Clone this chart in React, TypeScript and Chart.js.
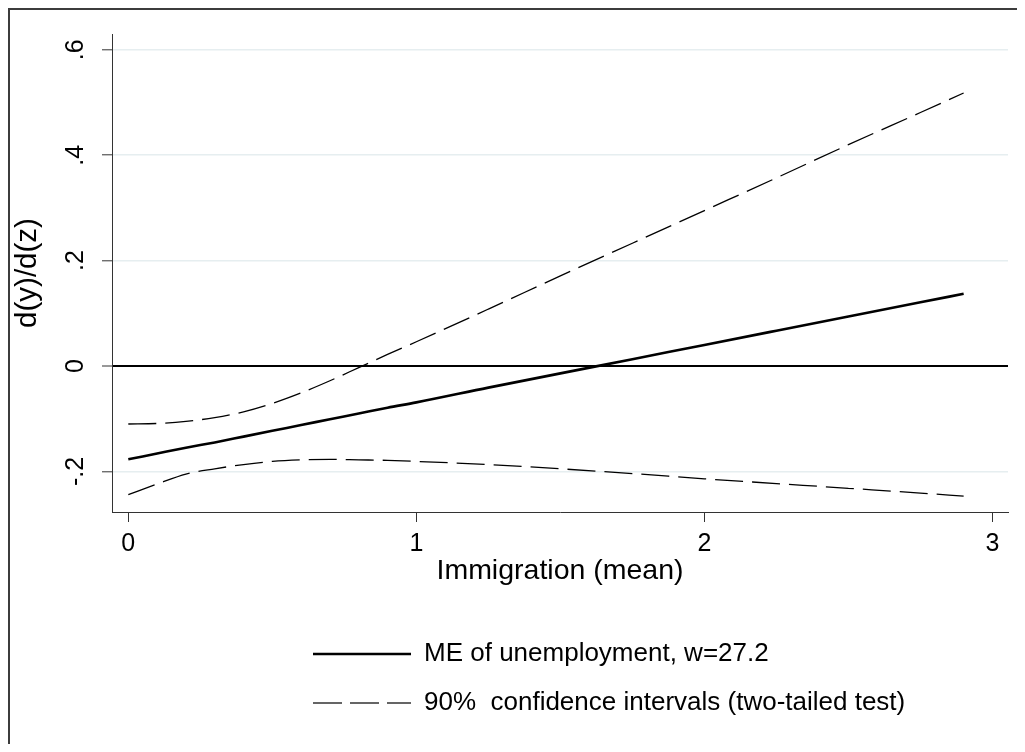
import React, { useEffect, useRef } from 'react';
import { Chart, registerables } from 'chart.js';

Chart.register(...registerables);

// ---- data ----
const xValues = [0, 0.1, 0.2, 0.3, 0.4, 0.5, 0.6, 0.7, 0.8, 0.9, 1.0, 1.25, 1.5, 1.75, 2.0, 2.25, 2.5, 2.75, 2.9];
const meValues = [-0.177, -0.166, -0.155, -0.145, -0.134, -0.123, -0.112, -0.101, -0.09, -0.079, -0.069, -0.041, -0.014, 0.013, 0.04, 0.067, 0.094, 0.121, 0.137];
const upperCI = [-0.11, -0.109, -0.105, -0.098, -0.087, -0.071, -0.051, -0.028, -0.003, 0.022, 0.046, 0.108, 0.171, 0.233, 0.295, 0.357, 0.42, 0.481, 0.518];
const lowerCI = [-0.244, -0.224, -0.205, -0.195, -0.187, -0.181, -0.178, -0.177, -0.178, -0.179, -0.181, -0.187, -0.195, -0.204, -0.214, -0.223, -0.232, -0.241, -0.247];
const xTickValues = [0, 1, 2, 3];
const yTickValues = [-0.2, 0, 0.2, 0.4, 0.6];
const xRange = [-0.0566, 3.054];
const yRange = [-0.277, 0.63];
const seriesLabels = ['ME of unemployment, w=27.2', '90%  confidence intervals (two-tailed test)'];
const xTitle = 'Immigration (mean)';
const yTitle = 'd(y)/d(z)';

const FONT = "'Liberation Sans', Arial, Helvetica, sans-serif";

const fmtY = (v: number) => {
  if (Math.abs(v) < 1e-9) return '0';
  return (v < 0 ? '-' : '') + Math.abs(v).toFixed(1).replace(/^0/, '');
};

const toPts = (ys: number[]) => xValues.map((x, i) => ({ x, y: ys[i] }));

export default function App() {
  const ref = useRef<HTMLCanvasElement | null>(null);

  useEffect(() => {
    document.documentElement.style.overflow = 'hidden';
    document.body.style.overflow = 'hidden';
    if (!ref.current) return;

    const legendShift = {
      id: 'legendShift',
      afterLayout(chart: any) {
        const lg = chart.legend;
        if (lg) {
          lg.left = 282;
        }
      },
    };

    const chart = new Chart(ref.current, {
      type: 'line',
      data: {
        datasets: [
          {
            label: seriesLabels[0],
            data: toPts(meValues),
            borderColor: '#000',
            borderWidth: 2.6,
            pointRadius: 0,
            pointHoverRadius: 0,
            tension: 0.3,
            cubicInterpolationMode: 'monotone',
            fill: false,
          },
          {
            label: seriesLabels[1],
            data: toPts(upperCI),
            borderColor: '#000',
            borderWidth: 1.3,
            borderDash: [28, 9],
            pointRadius: 0,
            pointHoverRadius: 0,
            tension: 0.3,
            cubicInterpolationMode: 'monotone',
            fill: false,
          },
          {
            label: seriesLabels[1],
            data: toPts(lowerCI),
            borderColor: '#000',
            borderWidth: 1.3,
            borderDash: [28, 9],
            pointRadius: 0,
            pointHoverRadius: 0,
            tension: 0.3,
            cubicInterpolationMode: 'monotone',
            fill: false,
          },
        ],
      },
      options: {
        animation: false,
        responsive: false,
        events: [],
        layout: { padding: { top: 26, right: 17, bottom: 18, left: 0 } },
        plugins: {
          tooltip: { enabled: false },
          legend: {
            display: true,
            position: 'bottom',
            align: 'start',
            labels: {
              usePointStyle: true,
              pointStyleWidth: 98,
              padding: 23,
              color: '#000',
              font: { family: FONT, size: 26 },
              generateLabels: (c: any) =>
                c.data.datasets.slice(0, 2).map((ds: any, i: number) => ({
                  text: ds.label,
                  strokeStyle: i === 0 ? '#000' : '#333',
                  fillStyle: 'rgba(0,0,0,0)',
                  lineWidth: i === 0 ? 2.6 : 1.3,
                  lineDash: i === 0 ? [] : [29, 8],
                  lineCap: 'butt',
                  pointStyle: 'line',
                  hidden: false,
                  datasetIndex: i,
                  fontColor: '#000',
                })),
            },
          },
        },
        scales: {
          x: {
            type: 'linear',
            min: xRange[0],
            max: xRange[1],
            afterBuildTicks: (s: any) => {
              s.ticks = xTickValues.map((v) => ({ value: v }));
            },
            afterFit: (s: any) => {
              s.height = 106;
            },
            ticks: {
              autoSkip: false,
              maxRotation: 0,
              padding: 7,
              color: '#000',
              font: { family: FONT, size: 25 },
              callback: (v: any) => String(v),
            },
            grid: {
              drawOnChartArea: false,
              drawTicks: true,
              tickLength: 10,
              tickColor: '#333',
              tickWidth: 1,
            },
            border: { display: true, color: '#333', width: 1 },
            title: {
              display: true,
              text: xTitle,
              color: '#000',
              font: { family: FONT, size: 28.5, lineHeight: 1.2 },
              padding: { top: 0, bottom: 30 },
            },
          },
          y: {
            type: 'linear',
            min: yRange[0],
            max: yRange[1],
            afterBuildTicks: (s: any) => {
              s.ticks = yTickValues.map((v) => ({ value: v }));
            },
            afterFit: (s: any) => {
              s.width = 104;
            },
            ticks: {
              autoSkip: false,
              minRotation: 90,
              maxRotation: 90,
              crossAlign: 'center',
              padding: 11,
              color: '#000',
              font: { family: FONT, size: 25 },
              callback: (v: any) => fmtY(Number(v)),
            },
            grid: {
              color: (c: any) => (c.tick && Math.abs(c.tick.value) < 1e-9 ? '#000' : '#e6eef0'),
              lineWidth: (c: any) => (c.tick && Math.abs(c.tick.value) < 1e-9 ? 2 : 1.6),
              drawTicks: true,
              tickLength: 10,
              tickColor: '#333',
              tickWidth: 1,
            },
            border: { display: true, color: '#333', width: 1 },
            title: {
              display: true,
              text: yTitle,
              color: '#000',
              font: { family: FONT, size: 29.5, lineHeight: 1.2 },
              padding: { top: 2, bottom: 0 },
            },
          },
        },
      } as any,
      plugins: [legendShift],
    });

    return () => {
      chart.destroy();
    };
  }, []);

  return (
    <div
      style={{
        position: 'relative',
        width: 1017,
        height: 736,
        borderLeft: '2px solid #3c3c3c',
        borderTop: '2px solid #3c3c3c',
        boxSizing: 'border-box',
        background: '#fff',
      }}
    >
      <canvas
        ref={ref}
        width={1017}
        height={736}
        style={{ position: 'absolute', left: -2, top: -2, width: 1017, height: 736, display: 'block' }}
      />
    </div>
  );
}
